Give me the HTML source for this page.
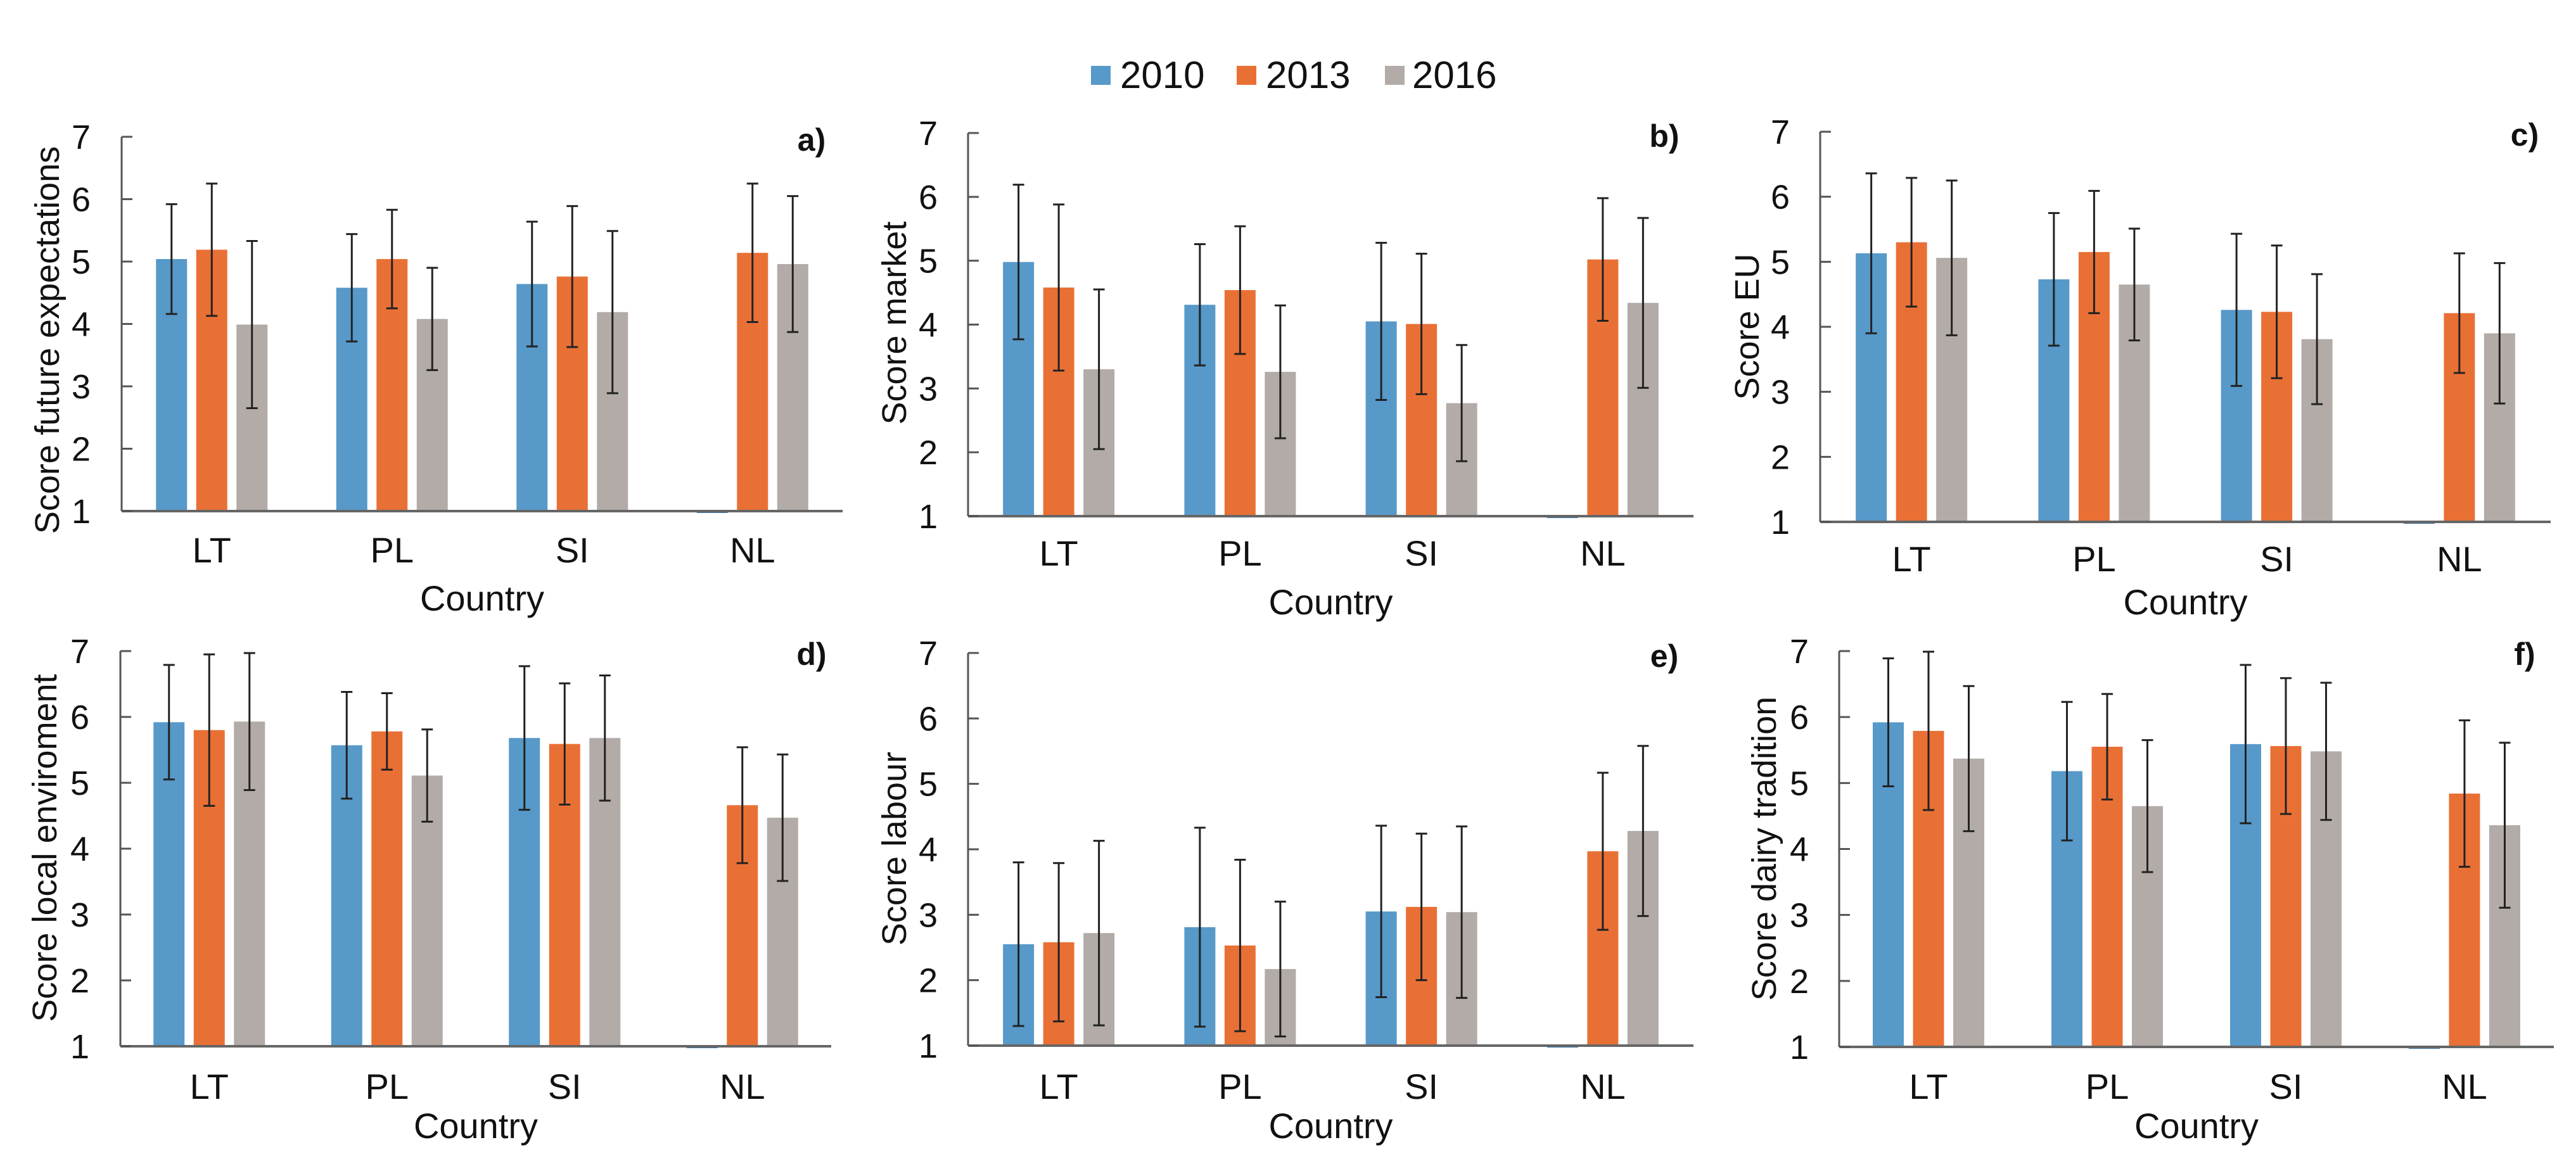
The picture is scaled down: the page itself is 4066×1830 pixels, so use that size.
<!DOCTYPE html>
<html><head><meta charset="utf-8"><style>
html,body{margin:0;padding:0;background:#fff}
svg{display:block}
text{font-family:"Liberation Sans",Arial,sans-serif;fill:#111}
</style></head><body>
<svg id="chart" width="4066" height="1830" viewBox="0 0 4066 1830" xmlns="http://www.w3.org/2000/svg">
<rect width="4066" height="1830" fill="#fff"/>
<g id="legend">
 <g><rect x="1722" y="104" width="31" height="30" fill="#5799C9"/><text x="1768" y="139" font-size="60">2010</text></g>
 <g><rect x="1952" y="104" width="31" height="30" fill="#E97035"/><text x="1998" y="139" font-size="60">2013</text></g>
 <g><rect x="2186" y="104" width="31" height="30" fill="#B2ABA8"/><text x="2229" y="139" font-size="60">2016</text></g>
</g>
</svg>
<script>
const categories = ["LT","PL","SI","NL"];
const seriesNames = ["2010","2013","2016"];
const yTicks = [1,2,3,4,5,6,7];
// panel a
const a2010 = [5.04,4.58,4.64,null], a2013 = [5.19,5.04,4.76,5.14], a2016 = [3.99,4.08,4.19,4.96];
const aSd2010 = [0.88,0.86,1.0,0], aSd2013 = [1.06,0.79,1.13,1.11], aSd2016 = [1.34,0.82,1.3,1.09];
// panel b
const b2010 = [4.98,4.31,4.05,null], b2013 = [4.58,4.54,4.01,5.02], b2016 = [3.30,3.26,2.77,4.34];
const bSd2010 = [1.21,0.95,1.23,0], bSd2013 = [1.3,1.0,1.1,0.96], bSd2016 = [1.25,1.04,0.91,1.33];
// panel c
const c2010 = [5.13,4.73,4.26,null], c2013 = [5.30,5.15,4.23,4.21], c2016 = [5.06,4.65,3.81,3.90];
const cSd2010 = [1.23,1.02,1.17,0], cSd2013 = [0.99,0.94,1.02,0.92], cSd2016 = [1.19,0.86,1.0,1.08];
// panel d
const d2010 = [5.92,5.57,5.68,null], d2013 = [5.80,5.78,5.59,4.66], d2016 = [5.93,5.11,5.68,4.47];
const dSd2010 = [0.87,0.81,1.09,0], dSd2013 = [1.15,0.58,0.92,0.88], dSd2016 = [1.04,0.70,0.95,0.96];
// panel e
const e2010 = [2.55,2.81,3.05,null], e2013 = [2.58,2.53,3.12,3.97], e2016 = [2.72,2.17,3.04,4.28];
const eSd2010 = [1.25,1.52,1.31,0], eSd2013 = [1.21,1.31,1.12,1.2], eSd2016 = [1.41,1.03,1.31,1.3];
// panel f
const f2010 = [5.92,5.18,5.59,null], f2013 = [5.79,5.55,5.56,4.84], f2016 = [5.37,4.65,5.48,4.36];
const fSd2010 = [0.97,1.05,1.2,0], fSd2013 = [1.2,0.8,1.03,1.11], fSd2016 = [1.1,1.0,1.04,1.25];

const colors = ["#5799C9","#E97035","#B2ABA8"];
const panels = [
 {id:"a",title:"Score future expectations",vals:[a2010,a2013,a2016],sds:[aSd2010,aSd2013,aSd2016],x0:192,x1:1330,y7:216,y1:807,lblR:143,titleX:93,titleY:537,catY:888,countryY:964,tagX:1281},
 {id:"b",title:"Score market",vals:[b2010,b2013,b2016],sds:[bSd2010,bSd2013,bSd2016],x0:1528,x1:2673,y7:210,y1:815,lblR:1480,titleX:1430,titleY:510,catY:893,countryY:970,tagX:2627},
 {id:"c",title:"Score EU",vals:[c2010,c2013,c2016],sds:[cSd2010,cSd2013,cSd2016],x0:2873,x1:4026,y7:208,y1:824,lblR:2825,titleX:2776,titleY:516,catY:902,countryY:970,tagX:3985},
 {id:"d",title:"Score local enviroment",vals:[d2010,d2013,d2016],sds:[dSd2010,dSd2013,dSd2016],x0:190,x1:1312,y7:1028,y1:1652,lblR:141,titleX:89,titleY:1339,catY:1735,countryY:1797,tagX:1281},
 {id:"e",title:"Score labour",vals:[e2010,e2013,e2016],sds:[eSd2010,eSd2013,eSd2016],x0:1528,x1:2673,y7:1031,y1:1651,lblR:1480,titleX:1430,titleY:1340,catY:1735,countryY:1797,tagX:2627},
 {id:"f",title:"Score dairy tradition",vals:[f2010,f2013,f2016],sds:[fSd2010,fSd2013,fSd2016],x0:2903,x1:4031,y7:1028,y1:1653,lblR:2855,titleX:2803,titleY:1340,catY:1735,countryY:1797,tagX:3985}
];
const NS = "http://www.w3.org/2000/svg";
const svg = document.getElementById("chart");
function mk(tag, attrs, parent){
  const el = document.createElementNS(NS, tag);
  for (const k in attrs) el.setAttribute(k, attrs[k]);
  parent.appendChild(el);
  return el;
}
panels.forEach(p => {
  const g = mk("g", {}, svg);
  
  
  const yS = v => p.y1 - (v - 1) * (p.y1 - p.y7) / 6;
  const catW = (p.x1 - p.x0) / categories.length;
  const xC = i => p.x0 + catW * (i + 0.5);
  const step = 63.5, bw = 49;
  // bars
  p.vals.forEach((arr, s) => {
    arr.forEach((v, i) => {
      const cx = xC(i) + (s - 1) * step;
      if (v === null) {
        const ph = mk("rect", {x: cx - bw/2, y: p.y1, width: bw, height: 3, fill: "#3f78a8"}, g);
        
        
        return;
      }
      const r = mk("rect", {x: cx - bw/2, y: yS(v), width: bw, height: p.y1 - yS(v), fill: colors[s]}, g);
      
      
      const sd = p.sds[s][i];
      const eg = mk("g", {stroke: "#222", "stroke-width": 3}, g);
      
      
      mk("line", {x1: cx, x2: cx, y1: yS(v + sd), y2: yS(v - sd)}, eg);
      mk("line", {x1: cx - 9, x2: cx + 9, y1: yS(v + sd), y2: yS(v + sd)}, eg);
      mk("line", {x1: cx - 9, x2: cx + 9, y1: yS(v - sd), y2: yS(v - sd)}, eg);
    });
  });
  // axes
  const ya = mk("line", {x1: p.x0, x2: p.x0, y1: p.y7, y2: p.y1, stroke: "#555", "stroke-width": 3}, g);
  
  
  const xa = mk("line", {x1: p.x0, x2: p.x1, y1: p.y1, y2: p.y1, stroke: "#666", "stroke-width": 4}, g);
  
  
  yTicks.forEach(t => {
    mk("line", {x1: p.x0, x2: p.x0 + 17, y1: yS(t), y2: yS(t), stroke: "#555", "stroke-width": 3}, g);
    const tl = mk("text", {x: p.lblR, y: yS(t) + 19, "font-size": 54, "text-anchor": "end"}, g);
    tl.textContent = t;
    
    
  });
  categories.forEach((c, i) => {
    const cl = mk("text", {x: xC(i), y: p.catY, "font-size": 56, "text-anchor": "middle"}, g);
    cl.textContent = c;
    
    
  });
  const ct = mk("text", {x: (p.x0 + p.x1) / 2, y: p.countryY, "font-size": 56, "text-anchor": "middle"}, g);
  ct.textContent = "Country";
  
  
  const yt = mk("text", {x: 0, y: 0, "font-size": 54, "text-anchor": "middle", transform: "translate(" + p.titleX + "," + p.titleY + ") rotate(-90)"}, g);
  yt.textContent = p.title;
  
  
  const tag = mk("text", {x: p.tagX, y: p.y7 + 22, "font-size": 50, "font-weight": "bold", "text-anchor": "middle"}, g);
  tag.textContent = p.id + ")";
  
  
});
</script>
</body></html>
